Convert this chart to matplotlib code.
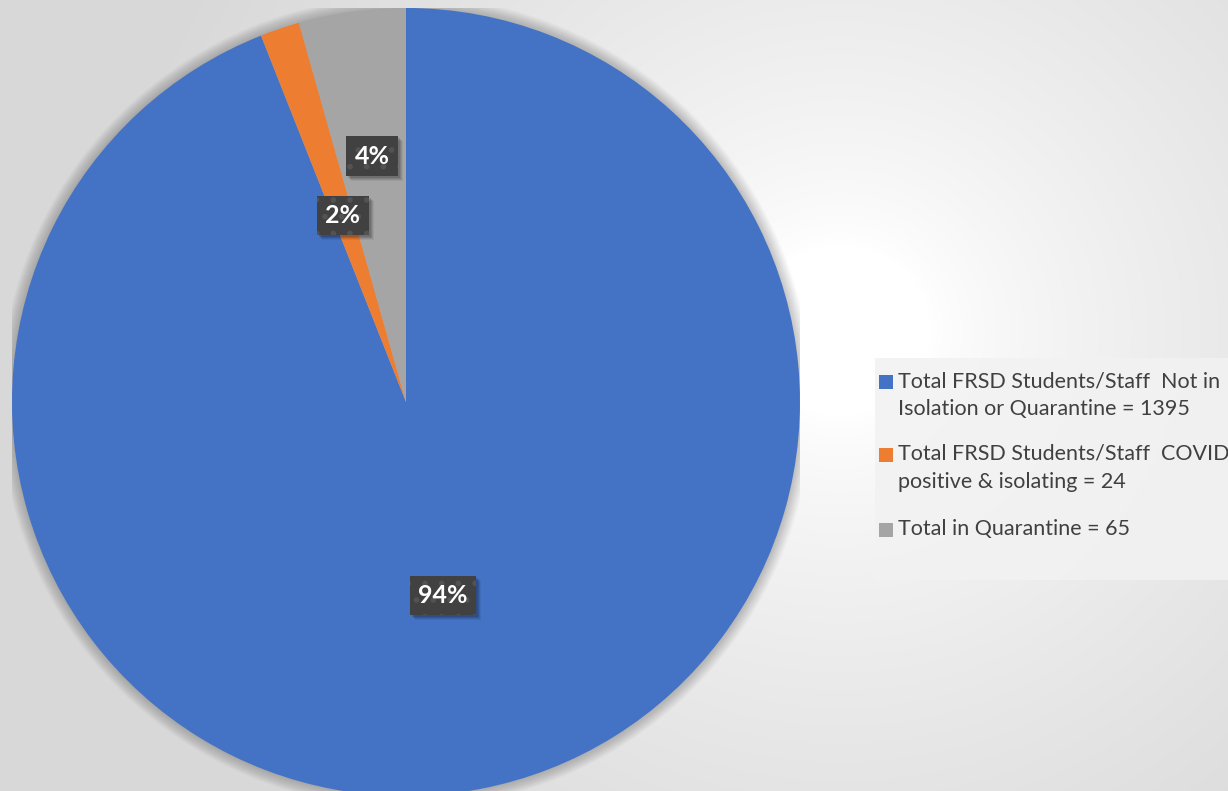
import numpy as np
import matplotlib
matplotlib.use("Agg")
import matplotlib.pyplot as plt
from matplotlib.patches import Rectangle, Circle
from matplotlib.transforms import IdentityTransform

# ---- data ----
categories = [
    "Total FRSD Students/Staff  Not in\nIsolation or Quarantine = 1395",
    "Total FRSD Students/Staff  COVID\npositive & isolating = 24",
    "Total in Quarantine = 65",
]
values = [1395, 24, 65]
colors = ["#4472C4", "#ED7D31", "#A5A5A5"]
label_dist = [0.5, 0.5, 0.63]

W, H = 1228, 791
fig = plt.figure(figsize=(W / 100, H / 100), dpi=100)

# overlay axes in pixel coordinates (y downward)
bg = fig.add_axes([0, 0, 1, 1])
bg.set_xlim(0, W)
bg.set_ylim(H, 0)
bg.axis("off")

# radial gradient background
yy, xx = np.mgrid[0:H, 0:W]
d = np.hypot(xx - 840, (yy - 330) * 1.05)
t = np.clip((d - 90) / 640, 0, 1) ** 0.75
c = 1.0 - t * (1.0 - 0.85)
img = np.dstack([c, c, c])
bg.imshow(img, extent=(0, W, H, 0), aspect="auto", zorder=0, interpolation="bilinear")

# pie axes
cx, cy, R = 406, 402, 394
ax = fig.add_axes([(cx - R) / W, (H - cy - R) / H, 2 * R / W, 2 * R / H])
# soft glow/shadow behind pie
for k in range(14):
    ax.add_patch(Circle((0, 0), 1.0 + 0.0022 * (k + 1), facecolor="black",
                        alpha=0.014, lw=0, zorder=0))
wedges, _ = ax.pie(values, colors=colors, startangle=90, counterclock=False,
                   wedgeprops=dict(linewidth=0))
for w in wedges:
    w.set_zorder(2)
ax.set_xlim(-1, 1)
ax.set_ylim(-1, 1)
ax.set_aspect("equal")
ax.axis("off")

plt.rcParams["hatch.linewidth"] = 1.6
total = sum(values)
labels = []
for w, v, r in zip(wedges, values, label_dist):
    ang = np.deg2rad((w.theta1 + w.theta2) / 2)
    x, y = r * np.cos(ang), r * np.sin(ang)
    txt = ax.text(x, y, f"{v / total * 100:.0f}%", ha="center", va="center",
                  fontsize=18, fontweight="bold", family="Lato", color="white", zorder=5,
                  bbox=dict(boxstyle="square,pad=0.33", facecolor="#414141",
                            edgecolor="#535353", linewidth=0, hatch="."))
    labels.append(txt)

# soft drop shadows under label boxes
fig.canvas.draw()
renderer = fig.canvas.get_renderer()
for txt in labels:
    bb = txt.get_bbox_patch().get_window_extent(renderer)
    for off, a in [(5, 0.06), (4, 0.08), (3, 0.10), (2, 0.12)]:
        ax.add_patch(Rectangle((bb.x0 + off, bb.y0 - off), bb.width, bb.height,
                               transform=IdentityTransform(), facecolor="black",
                               alpha=a, lw=0, zorder=4))

# legend (manual)
bg.add_patch(Rectangle((875, 358), W - 875, 222, facecolor="#f2f2f2",
                       edgecolor="none", alpha=0.85, zorder=1))
entry_y = [382, 455, 530]
for lab, col, y in zip(categories, colors, entry_y):
    bg.add_patch(Rectangle((879, y - 7), 14, 14, facecolor=col, edgecolor="none", zorder=3))
    bg.text(898, y - 11, lab, ha="left", va="top", fontsize=15.5, family="Lato",
            color="#404040", linespacing=1.5, zorder=3)

fig.savefig("out.png", dpi=100)
